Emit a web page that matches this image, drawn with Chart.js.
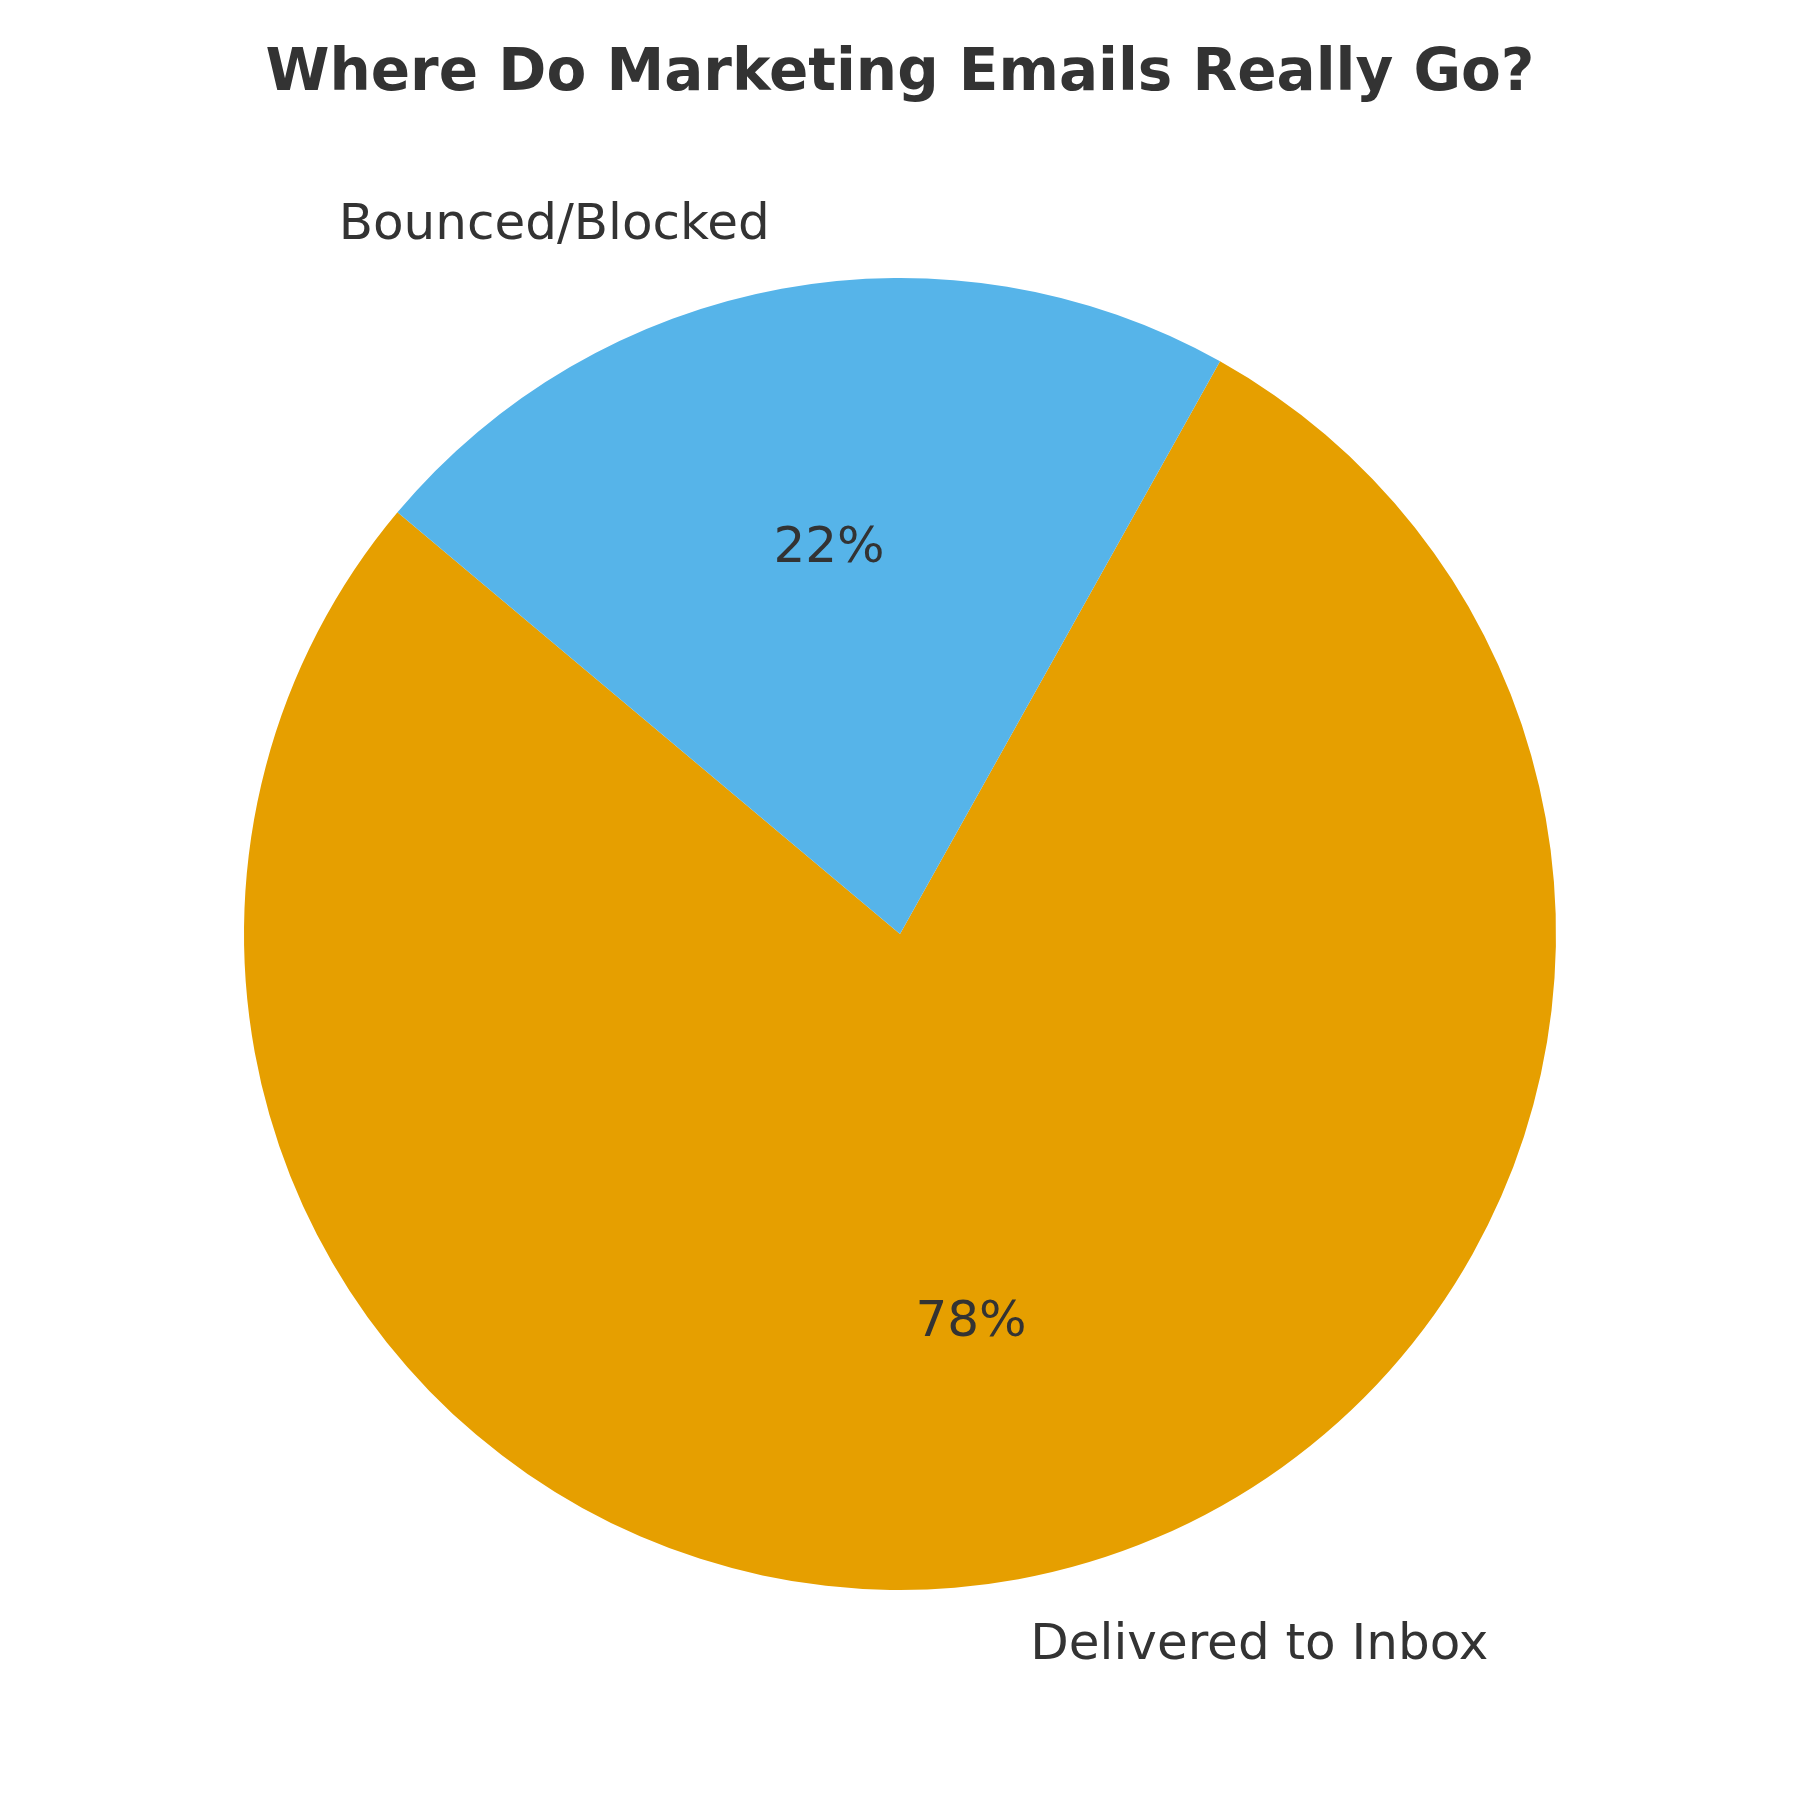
<!DOCTYPE html>
<html>
<head>
<meta charset="utf-8">
<title>Where Do Marketing Emails Really Go?</title>
<script src="https://cdn.jsdelivr.net/npm/chart.js@4"></script>
<style>
    html, body { margin: 0; padding: 0; background: #fff; }
    #chart-wrap { width: 1800px; height: 1800px; }
</style>
</head>
<body>
<div id="chart-wrap"><canvas id="emailChart" width="1800" height="1800"></canvas></div>
<script>
// Chart data
const chartTitle = "Where Do Marketing Emails Really Go?";
const categories = ["Delivered to Inbox", "Bounced/Blocked"];
const shares = [78, 22];
const sliceColors = ["#E69F00", "#56B4E9"];

const textColor = "#333333";
const fontFamily = "'DejaVu Sans', sans-serif";

// Draws title, outer labels and percentages from the arc elements
const pieLabels = {
    id: "pieLabels",
    afterDraw(chart) {
        const ctx = chart.ctx;
        const arcs = chart.getDatasetMeta(0).data;
        const total = shares.reduce((a, b) => a + b, 0);

        ctx.save();
        ctx.fillStyle = textColor;
        ctx.textBaseline = "alphabetic";

        // title
        ctx.font = "bold 58px " + fontFamily;
        ctx.textAlign = "center";
        ctx.fillText(chartTitle, chart.width / 2, 90);

        arcs.forEach((arc, i) => {
            const mid = (arc.startAngle + arc.endAngle) / 2;
            const r = arc.outerRadius;
            const cx = Math.cos(mid), cy = Math.sin(mid);

            ctx.font = "50px " + fontFamily;

            // category label outside
            ctx.textAlign = cx >= 0 ? "left" : "right";
            ctx.fillText(categories[i], arc.x + cx * r * 1.1, arc.y + cy * r * 1.1 + 15);

            // percentage inside
            ctx.textAlign = "center";
            const pct = Math.round(shares[i] / total * 100) + "%";
            ctx.fillText(pct, arc.x + cx * r * 0.6, arc.y + cy * r * 0.6 + 15);
        });
        ctx.restore();
    }
};

const ctx = document.getElementById("emailChart").getContext("2d");
new Chart(ctx, {
    type: "pie",
    data: {
        labels: categories,
        datasets: [{
            data: shares,
            backgroundColor: sliceColors,
            borderWidth: 0,
        }],
    },
    options: {
        responsive: false,
        devicePixelRatio: 1,
        animation: false,
        rotation: 29.2,
        layout: {
            padding: { top: 278, bottom: 210, left: 244, right: 244 },
        },
        plugins: {
            legend: { display: false },
            title: { display: false },
            tooltip: { enabled: false },
        },
    },
    plugins: [pieLabels],
});
</script>
</body>
</html>
